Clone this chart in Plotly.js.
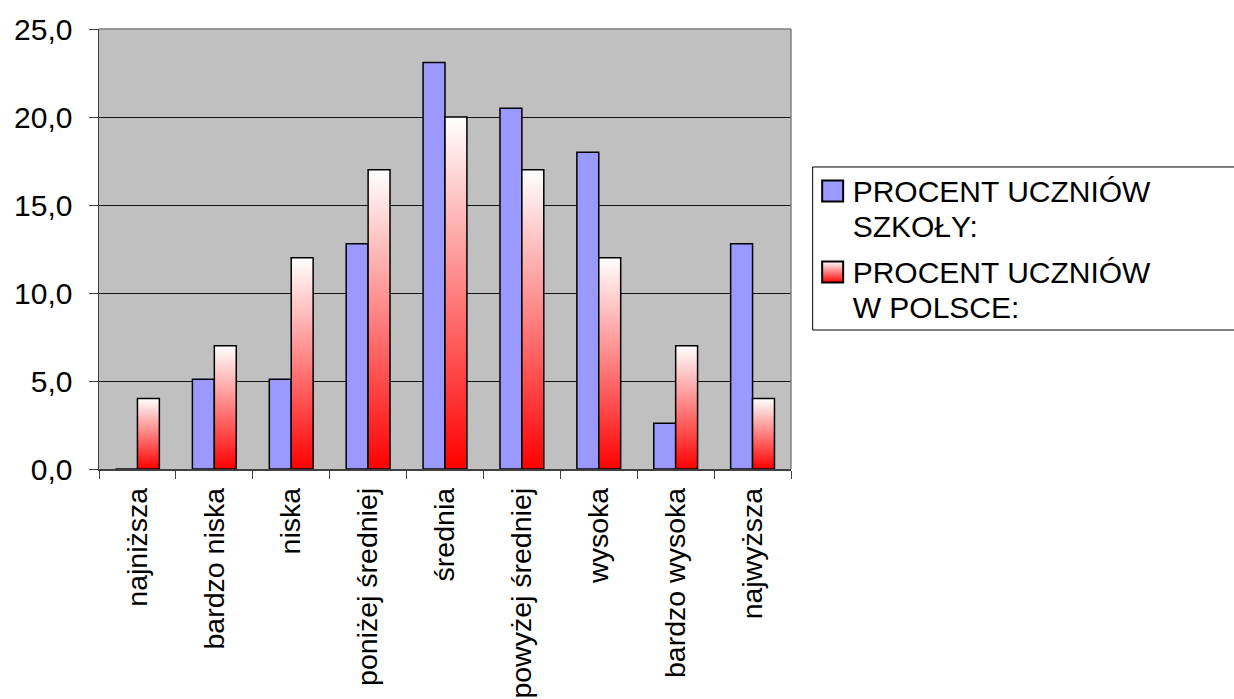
<!DOCTYPE html>
<html>
<head>
<meta charset="utf-8">
<script src="https://cdn.plot.ly/plotly-3.0.1.min.js"></script>
<style>html,body{margin:0;padding:0;background:#fff;}#chart{width:1234px;height:699px;}</style>
</head>
<body>
<div id="chart"></div>
<script>
const categories = ['najniższa','bardzo niska','niska','poniżej średniej','średnia','powyżej średniej','wysoka','bardzo wysoka','najwyższa'];
const szkola = [0, 5.1, 5.1, 12.8, 23.1, 20.5, 18.0, 2.6, 12.8];
const polska = [4, 7, 12, 17, 20, 17, 12, 7, 4];
const yTicks = [0, 5, 10, 15, 20, 25];
const seriesNames = ['PROCENT UCZNIÓW<br>SZKOŁY:', 'PROCENT UCZNIÓW<br>W POLSCE:'];

const traces = [
  {type:'bar', x:categories, y:szkola, name:seriesNames[0],
   marker:{color:'#9999FF', line:{color:'#000', width:1.5}}, hoverinfo:'none'},
  {type:'bar', x:categories, y:polska, name:seriesNames[1],
   marker:{color:'#FF8080', line:{color:'#000', width:1.5}}, hoverinfo:'none'}
];

const LEG_FONT = 30;
const layout = {
  width:1234, height:699,
  margin:{l:99, r:443, t:29, b:230},
  paper_bgcolor:'#fff', plot_bgcolor:'#C0C0C0',
  separators:', ',
  barmode:'group', bargap:0.43, bargroupgap:0,
  font:{family:'Liberation Sans, Arial, sans-serif', color:'#000'},
  showlegend:true,
  legend:{x:1.0313, xanchor:'left', y:0.69, yanchor:'top', bgcolor:'rgba(0,0,0,0)',
          borderwidth:0, font:{size:LEG_FONT, color:'#000'}, tracegroupgap:0, traceorder:'normal'},
  xaxis:{type:'category', tickangle:-90, tickson:'boundaries', ticks:'outside', ticklen:8,
         tickcolor:'#404040', tickwidth:1, showgrid:false, showline:true, linecolor:'#404040', linewidth:1.5,
         tickfont:{size:28.5, color:'#000'}, ticklabelstandoff:6, automargin:false, fixedrange:true},
  yaxis:{range:[0,25], tickvals:yTicks, tickformat:'.1f', ticks:'outside', ticklen:9, tickcolor:'#404040',
         showgrid:true, gridcolor:'#111', gridwidth:1, showline:true, linecolor:'#404040', linewidth:1.5,
         zeroline:false, tickfont:{size:30, color:'#000'}, ticklabelstandoff:10, automargin:false, fixedrange:true},
  shapes:[
    {type:'line', xref:'paper', yref:'paper', x0:0, x1:1, y0:1, y1:1, line:{color:'#808080', width:1.5}},
    {type:'line', xref:'paper', yref:'paper', x0:1, x1:1, y0:0, y1:1, line:{color:'#808080', width:1.5}},
    {type:'rect', xref:'paper', yref:'paper', x0:1.0313, x1:1.75, y0:0.3159, y1:0.6864, line:{color:'#000', width:1}, fillcolor:'rgba(0,0,0,0)'}
  ]
};

Plotly.newPlot('chart', traces, layout, {displayModeBar:false, staticPlot:true}).then(function(gd){
  const svgNS = 'http://www.w3.org/2000/svg';
  const defs = gd.querySelector('svg.main-svg defs');
  const grad = document.createElementNS(svgNS, 'linearGradient');
  grad.setAttribute('id', 'redgrad');
  grad.setAttribute('x1','0'); grad.setAttribute('y1','0');
  grad.setAttribute('x2','0'); grad.setAttribute('y2','1');
  [['0%','#FFFFFF'],['100%','#FF0000']].forEach(function(s){
    const st = document.createElementNS(svgNS, 'stop');
    st.setAttribute('offset', s[0]); st.setAttribute('stop-color', s[1]);
    grad.appendChild(st);
  });
  defs.appendChild(grad);
  const barTraces = gd.querySelectorAll('.barlayer .trace');
  if (barTraces[1]) barTraces[1].querySelectorAll('path').forEach(function(p){ p.style.fill = 'url(#redgrad)'; });

  // legend: bigger symbols, first line aligned with symbol, tighter line spacing
  const firstCenters = [191, 272];
  const lineStep = 35.5;
  const legTraces = gd.querySelectorAll('.legend .traces');
  legTraces.forEach(function(t, i){
    const p = t.querySelector('.legendpoints path');
    if (p) {
      p.setAttribute('d', 'M10.5,10.5H-10.5V-10.5H10.5Z');
      p.style.strokeWidth = '2px';
      if (i === 1) p.style.fill = 'url(#redgrad)';
    }
    const txt = t.querySelector('text.legendtext');
    if (txt) {
      const lines = txt.querySelectorAll('tspan.line');
      if (lines.length) {
        lines.forEach(function(ln, k){
          ln.setAttribute('dy', '0');
          ln.setAttribute('y', String(0.358 * LEG_FONT + k * lineStep));
        });
      } else {
        txt.setAttribute('y', String(0.358 * LEG_FONT));
      }
    }
    if (p && firstCenters[i] !== undefined) {
      const r = p.getBoundingClientRect();
      const cur = r.top + r.height / 2;
      const delta = firstCenters[i] - cur;
      const tr = t.getAttribute('transform') || 'translate(0,0)';
      const m = /translate\(\s*([-\d.eE]+)[ ,]+([-\d.eE]+)\s*\)/.exec(tr);
      if (m) t.setAttribute('transform', 'translate(' + m[1] + ',' + (parseFloat(m[2]) + delta) + ')');
    }
  });
  const legClip = gd.querySelectorAll('.legend clipPath rect, defs clipPath[id*="legend"] rect');
  legClip.forEach(function(r){ r.setAttribute('height', '400'); });
});
</script>
</body>
</html>
